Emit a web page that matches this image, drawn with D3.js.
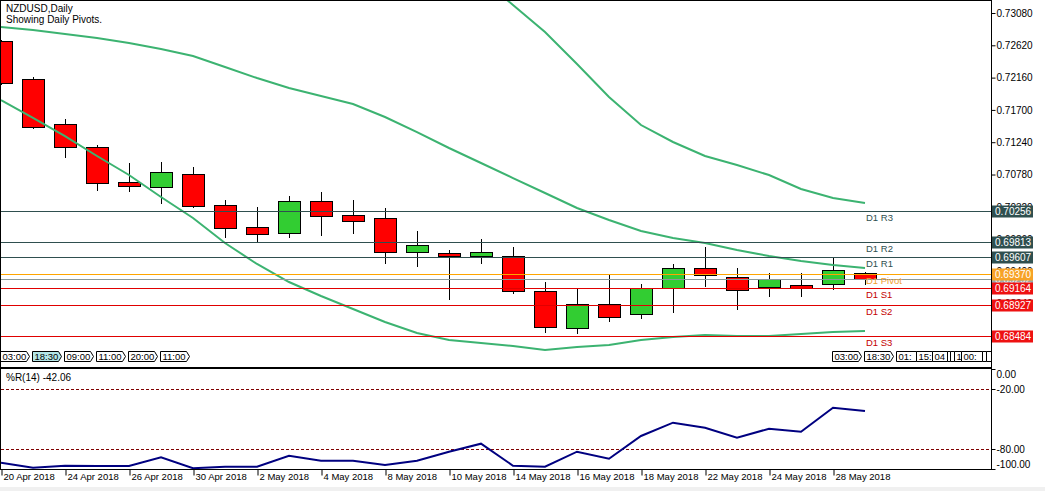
<!DOCTYPE html>
<html>
<head>
<meta charset="utf-8">
<script src="https://d3js.org/d3.v7.min.js"></script>
<style>
  body { margin: 0; background: #ffffff; }
  svg { display: block; font-family: "Liberation Sans", Arial, sans-serif; }
</style>
</head>
<body>
<div id="svgdiv"></div>
<script>
// Data (daily NZDUSD bars)
var dates = ["20 Apr 2018", "23 Apr 2018", "24 Apr 2018", "25 Apr 2018", "26 Apr 2018", "27 Apr 2018",
    "30 Apr 2018", "1 May 2018", "2 May 2018", "3 May 2018", "4 May 2018", "7 May 2018", "8 May 2018",
    "9 May 2018", "10 May 2018", "11 May 2018", "14 May 2018", "15 May 2018", "16 May 2018", "17 May 2018",
    "18 May 2018", "21 May 2018", "22 May 2018", "23 May 2018", "24 May 2018", "25 May 2018", "28 May 2018",
    "29 May 2018"];

var openP = [0.72681, 0.72140, 0.71499, 0.71172, 0.70673, 0.70602, 0.70787, 0.70346, 0.70032, 0.69947,
    0.70403, 0.70203, 0.70161, 0.69676, 0.69662, 0.69619, 0.69619, 0.69121, 0.68594, 0.68936,
    0.68794, 0.69164, 0.69449, 0.69320, 0.69178, 0.69206, 0.69221, 0.69377];
var highP = [0.72700, 0.72169, 0.71571, 0.71200, 0.70944, 0.70958, 0.70887, 0.70417, 0.70317, 0.70474,
    0.70531, 0.70417, 0.70303, 0.69976, 0.69705, 0.69862, 0.69748, 0.69249, 0.69164, 0.69363,
    0.69221, 0.69506, 0.69748, 0.69449, 0.69377, 0.69377, 0.69591, 0.69392];
var lowP = [0.72070, 0.71442, 0.71029, 0.70559, 0.70545, 0.70374, 0.70317, 0.69890, 0.69833, 0.69890,
    0.69919, 0.69947, 0.69520, 0.69477, 0.69007, 0.69520, 0.69093, 0.68537, 0.68523, 0.68694,
    0.68737, 0.68822, 0.69192, 0.68865, 0.69050, 0.69050, 0.69150, 0.69221];
var closeP = [0.72083, 0.71457, 0.71172, 0.70659, 0.70616, 0.70816, 0.70332, 0.70018, 0.69933, 0.70403,
    0.70189, 0.70118, 0.69676, 0.69776, 0.69619, 0.69676, 0.69121, 0.68608, 0.68936, 0.68751,
    0.69164, 0.69449, 0.69349, 0.69135, 0.69292, 0.69164, 0.69420, 0.69292];

// envelope / band lines (upper one is above the chart until mid May)
var upperBand = [null, null, null, null, null, null, null, null, null, null, null, null, null, null, null,
    0.73578, 0.73194, 0.72809, 0.72354, 0.71884, 0.71485, 0.71243, 0.71044, 0.70915, 0.70773,
    0.70574, 0.70445, 0.70374];
var middleBand = [0.72881, 0.72838, 0.72781, 0.72724, 0.72653, 0.72567, 0.72468, 0.72311, 0.72154, 0.72012,
    0.71898, 0.71784, 0.71599, 0.71385, 0.71158, 0.70944, 0.70730, 0.70517, 0.70303, 0.70132,
    0.69976, 0.69876, 0.69805, 0.69705, 0.69619, 0.69548, 0.69491, 0.69449];
var lowerBand = [0.71841, 0.71585, 0.71328, 0.71044, 0.70773, 0.70460, 0.70161, 0.69805, 0.69506, 0.69249,
    0.69050, 0.68865, 0.68680, 0.68523, 0.68423, 0.68381, 0.68338, 0.68281, 0.68324, 0.68352,
    0.68423, 0.68466, 0.68494, 0.68480, 0.68480, 0.68509, 0.68537, 0.68551];

// Williams %R(14)
var wpr = [-93.7, -98.7, -96.7, -97.0, -97.0, -88.3, -99.3, -97.7, -97.7, -86.7, -91.7, -91.7, -96.0, -91.7,
    -82.7, -74.7, -96.7, -97.7, -82.7, -89.7, -67.0, -53.7, -58.7, -68.7, -59.7, -62.7, -38.7, -42.06];

// daily pivots
var pivotNames = ["D1 R3", "D1 R2", "D1 R1", "D1 Pivot", "D1 S1", "D1 S2", "D1 S3"];
var pivotValues = [0.70256, 0.69813, 0.69607, 0.69370, 0.69164, 0.68927, 0.68484];
var pivotKinds = ["r", "r", "r", "p", "s", "s", "s"];
var bidPrice = 0.69292;

// axis ticks
var priceTicks = [0.73080, 0.72620, 0.72160, 0.71700, 0.71240, 0.70780, 0.70320, 0.69860, 0.69400, 0.68940];
var dateTicks = [0, 2, 4, 6, 8, 10, 12, 14, 16, 18, 20, 22, 24, 26];
var wprTicks = [0, -20, -80, -100];
var wprLevels = [-20, -80];

// session time tags along the bottom of the price window (bar position, visible text)
var tagPos = [0, 1, 2, 3, 4, 5, 26, 27, 28, 28.625, 29.125, 29.59, 29.69, 29.81, 30.03, 30.69, 30.81];
var tagText = ["03:00", "18:30", "09:00", "11:00", "20:00", "11:00", "03:00", "18:30", "01:", "15:",
    "04", "", "", "1", "00:", "", ""];
var tagHighlight = 1;

// Step 1: chart layout
var svgWidth = 1045;
var svgHeight = 491;
var plotLeft = 1, plotRight = 991;
var mainTop = 1, mainBottom = 367;
var subTop = 369, subBottom = 469;

var colors = { r: "#2f4f4f", p: "#ffa500", s: "#e00000" };
var textColors = { r: "#2f4f4f", p: "#f0a030", s: "#c40000" };

var svg = d3.select("#svgdiv")
    .append("svg")
    .attr("width", svgWidth)
    .attr("height", svgHeight);

svg.append("rect").attr("width", svgWidth).attr("height", svgHeight).attr("fill", "#ffffff");
svg.append("rect").attr("x", 0).attr("y", 487).attr("width", svgWidth).attr("height", 4).attr("fill", "#f0f0f0");

// Step 2: scales
var xScale = d3.scaleLinear().domain([0, 30.9375]).range([plotLeft, plotRight]);
var yScale = d3.scaleLinear().domain([0.68039, 0.73251]).range([mainBottom, mainTop]);
var wScale = d3.scaleLinear().domain([-100, 0]).range([subBottom, subTop]);

var px = i => Math.round(xScale(i));
var py = v => Math.round(yScale(v));

svg.append("clipPath").attr("id", "mainclip")
    .append("rect").attr("x", plotLeft).attr("y", mainTop)
    .attr("width", plotRight - plotLeft).attr("height", mainBottom - mainTop);
svg.append("clipPath").attr("id", "subclip")
    .append("rect").attr("x", plotLeft).attr("y", subTop)
    .attr("width", plotRight - plotLeft).attr("height", subBottom - subTop + 1);

// Step 3: price axis (drawn first, pivot tags cover some of it)
var rightAxis = d3.axisRight(yScale)
    .tickValues(priceTicks)
    .tickSize(4)
    .tickSizeOuter(0)
    .tickFormat(d => d.toFixed(5));

var yAxis = svg.append("g")
    .attr("transform", `translate(${plotRight + 0.5}, 0)`)
    .call(rightAxis);
yAxis.select(".domain").remove();
yAxis.selectAll("text").attr("x", 5).attr("font-size", "10px").attr("font-family", "Liberation Sans").attr("fill", "#000");

// Step 4: candles
var mainGroup = svg.append("g").attr("clip-path", "url(#mainclip)");
var bars = d3.range(dates.length);

mainGroup.selectAll(".wick")
    .data(bars)
    .enter()
    .append("line")
        .attr("x1", i => px(i) + 0.5)
        .attr("x2", i => px(i) + 0.5)
        .attr("y1", i => py(highP[i]))
        .attr("y2", i => py(lowP[i]) + 1)
        .attr("stroke", "#000")
        .attr("shape-rendering", "crispEdges");

mainGroup.selectAll(".body")
    .data(bars)
    .enter()
    .append("rect")
        .attr("x", i => px(i) - 11 + 0.5)
        .attr("y", i => py(Math.max(openP[i], closeP[i])) + 0.5)
        .attr("width", 22)
        .attr("height", i => Math.max(1, py(Math.min(openP[i], closeP[i])) - py(Math.max(openP[i], closeP[i]))))
        .attr("fill", i => closeP[i] >= openP[i] ? "#32cd32" : "#ff0000")
        .attr("stroke", "#000")
        .attr("shape-rendering", "crispEdges");

// Step 5: band lines
var bandLine = d3.line()
    .defined(d => d !== null)
    .x((d, i) => xScale(i))
    .y(d => yScale(d));

[upperBand, middleBand, lowerBand].forEach(function(band) {
    mainGroup.append("path")
        .datum(band)
        .attr("d", bandLine)
        .attr("fill", "none")
        .attr("stroke", "#3cb371")
        .attr("stroke-width", 2);
});

// Step 6: pivot lines and current price line
mainGroup.append("line")
    .attr("x1", plotLeft).attr("x2", plotRight)
    .attr("y1", py(bidPrice) + 0.5).attr("y2", py(bidPrice) + 0.5)
    .attr("stroke", "#8a9a9a");

mainGroup.selectAll(".pivot")
    .data(pivotValues)
    .enter()
    .append("line")
        .attr("x1", plotLeft).attr("x2", plotRight)
        .attr("y1", d => py(d) + 0.5).attr("y2", d => py(d) + 0.5)
        .attr("stroke", (d, i) => colors[pivotKinds[i]]);

mainGroup.selectAll(".pivotname")
    .data(pivotValues)
    .enter()
    .append("text")
        .attr("x", 866)
        .attr("y", d => py(d) + 10)
        .attr("font-size", "9.5px")
        .attr("fill", (d, i) => textColors[pivotKinds[i]])
        .text((d, i) => pivotNames[i]);

// price tags on the axis
function priceTag(value, fill) {
    var yy = py(value) + 0.5;
    svg.append("rect")
        .attr("x", 992).attr("y", yy - 6)
        .attr("width", 41).attr("height", 12)
        .attr("fill", fill);
    svg.append("text")
        .attr("x", 995).attr("y", yy)
        .attr("dy", "0.35em")
        .attr("font-size", "10px")
        .attr("fill", "#fff")
        .text(value.toFixed(5));
}
priceTag(bidPrice, "#9aa8a8");
pivotValues.forEach(function(v, i) {
    priceTag(v, pivotKinds[i] === "r" ? "#2f4f4f" : (pivotKinds[i] === "p" ? "#f7a226" : "#ee1111"));
});

// Step 7: session time tags (later tags sit on top of earlier ones)
var tagGroup = svg.append("g").attr("clip-path", "url(#mainclip)");
tagPos.forEach(function(pos, i) {
    var x0 = px(pos) - 0.5, y0 = 351.5, h = 10;
    var next = i + 1 < tagPos.length && tagPos[i + 1] - pos < 1 ? px(tagPos[i + 1]) - 0.5 : x0 + 29;
    var w = Math.min(29, next - x0);
    var shape = w >= 29
        ? `M${x0},${y0}H${x0 + w - 3}L${x0 + w},${y0 + h / 2}L${x0 + w - 3},${y0 + h}H${x0}Z`
        : `M${x0},${y0}H${x0 + w}V${y0 + h}H${x0}Z`;
    tagGroup.append("path")
        .attr("d", shape)
        .attr("fill", i === tagHighlight ? "#b4e6e6" : "#ffffff")
        .attr("stroke", "#000");
    if (tagText[i] !== "") {
        tagGroup.append("text")
            .attr("x", x0 + 2).attr("y", y0 + 8.5)
            .attr("font-size", "9.5px")
            .attr("fill", "#000")
            .text(tagText[i]);
    }
});

// titles
svg.append("text").attr("x", 6).attr("y", 12).attr("font-size", "10px").text("NZDUSD,Daily");
svg.append("text").attr("x", 6).attr("y", 23).attr("font-size", "10px").text("Showing Daily Pivots.");

// Step 8: %R sub-window
var subGroup = svg.append("g").attr("clip-path", "url(#subclip)");

subGroup.selectAll(".level")
    .data(wprLevels)
    .enter()
    .append("line")
        .attr("x1", plotLeft).attr("x2", plotRight)
        .attr("y1", d => Math.round(wScale(d)) + 0.5).attr("y2", d => Math.round(wScale(d)) + 0.5)
        .attr("stroke", "#800000")
        .attr("stroke-dasharray", "3,2");

subGroup.append("path")
    .datum(wpr)
    .attr("d", d3.line().x((d, i) => xScale(i)).y(d => wScale(d)))
    .attr("fill", "none")
    .attr("stroke", "#000080")
    .attr("stroke-width", 2);

svg.append("text").attr("x", 6).attr("y", 381).attr("font-size", "10px")
    .text("%R(14) " + wpr[wpr.length - 1].toFixed(2));

var wAxis = d3.axisRight(wScale)
    .tickValues(wprTicks)
    .tickSize(4)
    .tickSizeOuter(0)
    .tickFormat(d => d.toFixed(2));
var wAxisG = svg.append("g")
    .attr("transform", `translate(${plotRight + 0.5}, 0)`)
    .call(wAxis);
wAxisG.select(".domain").remove();
wAxisG.selectAll("text")
    .attr("x", 5)
    .attr("font-size", "10px")
    .attr("font-family", "Liberation Sans")
    .attr("fill", "#000")
    .attr("dy", d => d === 0 ? "0.85em" : (d === -100 ? "-0.2em" : "0.32em"));

// Step 9: date axis
var bottomAxis = d3.axisBottom(xScale)
    .tickValues(dateTicks)
    .tickSize(6)
    .tickSizeOuter(0)
    .tickFormat(i => dates[i]);
var xAxis = svg.append("g")
    .attr("transform", `translate(0, ${subBottom + 0.5})`)
    .call(bottomAxis);
xAxis.select(".domain").remove();
xAxis.selectAll(".tick line").attr("transform", "translate(0.5,0)");
xAxis.selectAll("text")
    .attr("text-anchor", "start")
    .attr("x", 2)
    .attr("y", 4)
    .attr("font-size", "9.5px")
    .attr("font-family", "Liberation Sans")
    .attr("fill", "#000");

// Step 10: frames
var frame = svg.append("g").attr("stroke", "#000").attr("fill", "none").attr("shape-rendering", "crispEdges");
frame.append("line").attr("x1", 0.5).attr("x2", 0.5).attr("y1", 0).attr("y2", subBottom + 1);
frame.append("line").attr("x1", 0).attr("x2", plotRight + 1).attr("y1", 0.5).attr("y2", 0.5);
frame.append("line").attr("x1", plotRight + 0.5).attr("x2", plotRight + 0.5).attr("y1", 0).attr("y2", subBottom + 1);
frame.append("line").attr("x1", 0).attr("x2", plotRight + 1).attr("y1", 368).attr("y2", 368).attr("stroke-width", 2);
frame.append("line").attr("x1", 0).attr("x2", plotRight + 1).attr("y1", subBottom + 0.5).attr("y2", subBottom + 0.5);
</script>
</body>
</html>
